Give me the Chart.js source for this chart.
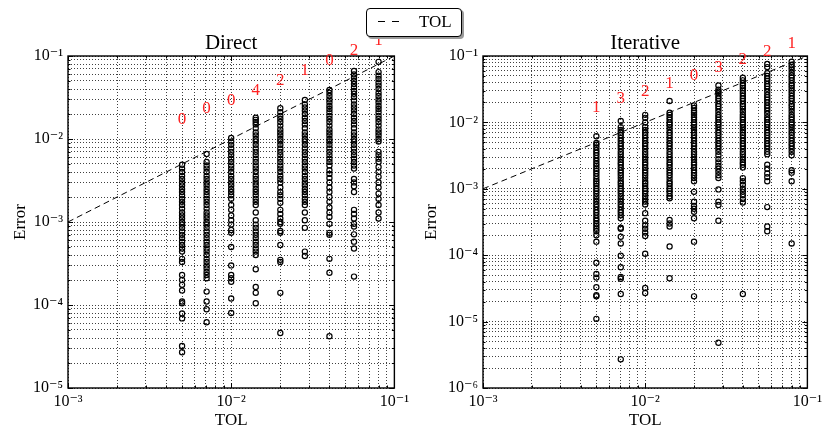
<!DOCTYPE html>
<html>
<head>
<meta charset="utf-8">
<script src="https://cdn.jsdelivr.net/npm/chart.js@4/dist/chart.umd.min.js"></script>
<style>
  body { margin: 0; background: #fff; width: 826px; height: 429px; overflow: hidden; position: relative; font-family: "Liberation Serif", serif; }
  .panel { position: absolute; top: 0; width: 413px; height: 429px; }
  #legend { position: absolute; left: 366px; top: 8px; width: 94px; height: 27px; border: 1px solid #000; border-radius: 4px; background: #fff; box-shadow: 2px 2px 0 #9a9a9a; }
  #legend .dash { position: absolute; top: 12px; width: 7px; height: 1px; background: #000; }
  #legend .txt { position: absolute; left: 52px; top: 3px; font-size: 17px; line-height: 20px; color: #000; }
</style>
</head>
<body>
<div class="panel" style="left:0"><canvas id="direct" width="413" height="429"></canvas></div>
<div class="panel" style="left:413px"><canvas id="iterative" width="413" height="429"></canvas></div>
<div id="legend"><div class="dash" style="left:11px"></div><div class="dash" style="left:25px"></div><span class="txt">TOL</span></div>
<script>
const tol = [0.005, 0.00707, 0.01, 0.01414, 0.02, 0.02828, 0.04, 0.05657, 0.08];
const tolLine = [0.001, 0.1];

// red numbers above each column and the height where they sit
const directAbove = [0, 0, 0, 4, 2, 1, 0, 2, 1];
const iterativeAbove = [1, 3, 2, 1, 0, 3, 2, 2, 1];
const labelHeights = [0.017, 0.023, 0.029, 0.038, 0.051, 0.066, 0.088, 0.117, 0.152];

// errors, one list per TOL column
const directErrors = [
  [4.9e-3,4.4e-3,4.0e-3,3.6e-3,3.3e-3,3.0e-3,2.75e-3,2.5e-3,2.3e-3,2.1e-3,1.9e-3,1.75e-3,1.6e-3,1.45e-3,1.3e-3,1.2e-3,1.1e-3,1.0e-3,9.3e-4,8.5e-4,7.7e-4,7.0e-4,6.4e-4,5.8e-4,5.3e-4,4.8e-4,4.4e-4,3.6e-4,3.3e-4,2.3e-4,2.0e-4,1.75e-4,1.5e-4,1.1e-4,1.05e-4,7.9e-5,6.9e-5,3.2e-5,2.7e-5],
  [6.6e-3,5.3e-3,4.8e-3,4.4e-3,4.0e-3,3.6e-3,3.3e-3,3.0e-3,2.75e-3,2.5e-3,2.3e-3,2.1e-3,1.9e-3,1.75e-3,1.6e-3,1.45e-3,1.3e-3,1.2e-3,1.1e-3,1.0e-3,9.3e-4,8.5e-4,7.7e-4,7.0e-4,6.4e-4,5.8e-4,5.3e-4,4.8e-4,4.4e-4,4.0e-4,3.6e-4,3.3e-4,3.0e-4,2.75e-4,2.5e-4,2.3e-4,2.1e-4,1.45e-4,1.1e-4,8.9e-5,6.2e-5],
  [1.03e-2,9.3e-3,8.5e-3,7.7e-3,7.0e-3,6.4e-3,5.8e-3,5.3e-3,4.8e-3,4.4e-3,4.0e-3,3.6e-3,3.3e-3,3.0e-3,2.75e-3,2.5e-3,2.3e-3,2.1e-3,1.9e-3,1.6e-3,1.4e-3,1.2e-3,1.05e-3,9.3e-4,8.0e-4,7.4e-4,5.0e-4,3.0e-4,2.3e-4,2.1e-4,1.9e-4,1.2e-4,8.0e-5],
  [1.8e-2,1.7e-2,1.6e-2,1.5e-2,1.35e-2,1.2e-2,1.1e-2,1.0e-2,9.3e-3,8.5e-3,7.7e-3,7.0e-3,6.4e-3,5.8e-3,5.3e-3,4.8e-3,4.4e-3,4.0e-3,3.6e-3,3.3e-3,3.0e-3,2.75e-3,2.5e-3,2.3e-3,2.1e-3,1.9e-3,1.75e-3,1.6e-3,1.3e-3,1.05e-3,9.3e-4,8.5e-4,7.7e-4,7.0e-4,6.4e-4,5.8e-4,5.3e-4,4.8e-4,4.4e-4,4.0e-4,2.7e-4,1.65e-4,1.4e-4,1.05e-4],
  [2.35e-2,2.1e-2,1.9e-2,1.75e-2,1.6e-2,1.45e-2,1.3e-2,1.2e-2,1.1e-2,1.0e-2,9.3e-3,8.5e-3,7.7e-3,7.0e-3,6.4e-3,5.8e-3,5.3e-3,4.8e-3,4.4e-3,4.0e-3,3.6e-3,3.3e-3,3.0e-3,2.6e-3,2.3e-3,2.1e-3,1.9e-3,1.7e-3,1.4e-3,1.25e-3,1.1e-3,1.0e-3,9.5e-4,7.8e-4,7.4e-4,5.3e-4,3.5e-4,3.3e-4,1.4e-4,4.6e-5],
  [2.95e-2,2.6e-2,2.4e-2,2.2e-2,2.0e-2,1.8e-2,1.65e-2,1.5e-2,1.35e-2,1.2e-2,1.1e-2,1.0e-2,9.3e-3,8.5e-3,7.7e-3,7.0e-3,6.4e-3,5.8e-3,5.3e-3,4.8e-3,4.4e-3,4.0e-3,3.6e-3,3.3e-3,3.0e-3,2.75e-3,2.5e-3,2.3e-3,2.1e-3,1.9e-3,1.75e-3,1.6e-3,1.3e-3,1.05e-3,8.5e-4,4.4e-4,3.9e-4],
  [3.9e-2,3.6e-2,3.3e-2,3.0e-2,2.75e-2,2.5e-2,2.3e-2,2.1e-2,1.9e-2,1.75e-2,1.6e-2,1.45e-2,1.3e-2,1.2e-2,1.1e-2,1.0e-2,9.3e-3,8.5e-3,7.7e-3,7.0e-3,6.4e-3,5.8e-3,5.3e-3,4.8e-3,4.2e-3,3.8e-3,3.4e-3,3.0e-3,2.6e-3,2.3e-3,2.0e-3,1.75e-3,1.5e-3,1.3e-3,1.15e-3,9.5e-4,7.4e-4,7.0e-4,3.6e-4,2.45e-4,4.2e-5],
  [6.6e-2,6.0e-2,5.5e-2,5.0e-2,4.6e-2,4.2e-2,3.8e-2,3.5e-2,3.2e-2,2.9e-2,2.6e-2,2.4e-2,2.2e-2,2.0e-2,1.8e-2,1.65e-2,1.5e-2,1.35e-2,1.2e-2,1.1e-2,1.0e-2,9.3e-3,8.5e-3,7.7e-3,7.0e-3,6.4e-3,5.8e-3,5.3e-3,4.8e-3,4.4e-3,3.3e-3,3.0e-3,2.7e-3,2.3e-3,1.4e-3,1.25e-3,1.1e-3,9.5e-4,8.8e-4,7.1e-4,5.8e-4,4.8e-4,2.2e-4],
  [8.5e-2,6.4e-2,5.8e-2,5.3e-2,4.8e-2,4.4e-2,4.0e-2,3.6e-2,3.3e-2,3.0e-2,2.75e-2,2.5e-2,2.3e-2,2.1e-2,1.9e-2,1.75e-2,1.6e-2,1.45e-2,1.3e-2,1.2e-2,1.1e-2,1.0e-2,9.3e-3,7.0e-3,6.4e-3,5.8e-3,5.3e-3,4.6e-3,4.0e-3,3.5e-3,3.0e-3,2.6e-3,2.2e-3,1.9e-3,1.6e-3,1.3e-3,1.1e-3]
];

const iterativeErrors = [
  [6.2e-3,4.9e-3,4.6e-3,4.2e-3,3.8e-3,3.5e-3,3.2e-3,2.9e-3,2.65e-3,2.4e-3,2.2e-3,2.0e-3,1.85e-3,1.7e-3,1.55e-3,1.4e-3,1.3e-3,1.2e-3,1.1e-3,1.0e-3,9.3e-4,8.5e-4,7.7e-4,7.0e-4,6.4e-4,5.8e-4,5.3e-4,4.8e-4,4.4e-4,4.0e-4,3.6e-4,3.3e-4,3.0e-4,2.75e-4,2.5e-4,2.3e-4,2.0e-4,1.6e-4,7.7e-5,5.2e-5,4.6e-5,3.3e-5,2.5e-5,2.4e-5,1.1e-5],
  [1.05e-2,8.5e-3,7.7e-3,7.0e-3,6.4e-3,5.8e-3,5.3e-3,4.8e-3,4.4e-3,4.0e-3,3.6e-3,3.3e-3,3.0e-3,2.75e-3,2.5e-3,2.3e-3,2.1e-3,1.9e-3,1.75e-3,1.6e-3,1.45e-3,1.3e-3,1.2e-3,1.1e-3,1.0e-3,9.3e-4,8.5e-4,7.7e-4,7.0e-4,6.4e-4,5.8e-4,5.3e-4,4.8e-4,4.4e-4,4.0e-4,3.6e-4,2.6e-4,2.5e-4,1.9e-4,1.5e-4,9.8e-5,6.6e-5,4.7e-5,4.4e-5,2.6e-5,2.7e-6],
  [1.3e-2,1.17e-2,1.0e-2,8.5e-3,7.7e-3,7.0e-3,6.4e-3,5.8e-3,5.3e-3,4.8e-3,4.4e-3,4.0e-3,3.6e-3,3.3e-3,3.0e-3,2.75e-3,2.5e-3,2.3e-3,2.1e-3,1.9e-3,1.75e-3,1.6e-3,1.45e-3,1.3e-3,1.2e-3,1.1e-3,1.0e-3,9.3e-4,8.5e-4,7.7e-4,7.0e-4,6.4e-4,5.8e-4,4.3e-4,3.3e-4,2.8e-4,2.5e-4,2.2e-4,1.95e-4,1.05e-4,3.2e-5,2.7e-5],
  [2.1e-2,1.4e-2,1.3e-2,1.2e-2,1.1e-2,1.0e-2,9.3e-3,8.5e-3,7.7e-3,7.0e-3,6.4e-3,5.8e-3,5.3e-3,4.8e-3,4.4e-3,4.0e-3,3.6e-3,3.3e-3,3.0e-3,2.75e-3,2.5e-3,2.3e-3,2.1e-3,1.9e-3,1.75e-3,1.6e-3,1.45e-3,1.3e-3,1.2e-3,1.1e-3,1.0e-3,9.3e-4,8.5e-4,7.7e-4,7.2e-4,3.4e-4,3.0e-4,2.7e-4,1.35e-4,4.5e-5],
  [1.8e-2,1.65e-2,1.5e-2,1.4e-2,1.3e-2,1.2e-2,1.1e-2,1.0e-2,9.3e-3,8.5e-3,7.7e-3,7.0e-3,6.4e-3,5.8e-3,5.3e-3,4.8e-3,4.4e-3,4.0e-3,3.6e-3,3.3e-3,3.0e-3,2.75e-3,2.5e-3,2.3e-3,2.1e-3,1.9e-3,1.75e-3,1.6e-3,1.45e-3,1.3e-3,9.0e-4,6.4e-4,5.5e-4,5.0e-4,4.5e-4,3.6e-4,1.6e-4,2.4e-5],
  [3.6e-2,3.1e-2,2.9e-2,2.75e-2,2.5e-2,2.3e-2,2.1e-2,1.9e-2,1.75e-2,1.6e-2,1.45e-2,1.3e-2,1.2e-2,1.1e-2,1.0e-2,9.3e-3,8.5e-3,7.7e-3,7.0e-3,6.4e-3,5.8e-3,5.3e-3,4.8e-3,4.4e-3,4.0e-3,3.6e-3,3.2e-3,2.8e-3,2.5e-3,2.2e-3,2.0e-3,1.8e-3,1.6e-3,1.45e-3,9.8e-4,6.4e-4,5.7e-4,3.3e-4,4.8e-6],
  [4.7e-2,4.3e-2,3.9e-2,3.6e-2,3.3e-2,3.0e-2,2.75e-2,2.5e-2,2.3e-2,2.1e-2,1.9e-2,1.75e-2,1.6e-2,1.45e-2,1.3e-2,1.2e-2,1.1e-2,1.0e-2,9.3e-3,8.5e-3,7.7e-3,7.0e-3,6.4e-3,5.8e-3,5.3e-3,4.8e-3,4.4e-3,4.0e-3,3.6e-3,3.3e-3,3.0e-3,2.75e-3,2.5e-3,2.3e-3,2.1e-3,1.45e-3,1.3e-3,1.15e-3,1.0e-3,9.0e-4,8.0e-4,7.0e-4,6.2e-4,2.6e-5],
  [7.6e-2,6.8e-2,5.5e-2,5.0e-2,4.6e-2,4.2e-2,3.8e-2,3.5e-2,3.2e-2,2.9e-2,2.6e-2,2.4e-2,2.2e-2,2.0e-2,1.8e-2,1.65e-2,1.5e-2,1.35e-2,1.2e-2,1.1e-2,1.0e-2,9.3e-3,8.5e-3,7.7e-3,7.0e-3,6.4e-3,5.8e-3,5.3e-3,4.8e-3,4.4e-3,4.0e-3,3.6e-3,3.3e-3,2.3e-3,2.0e-3,1.7e-3,1.5e-3,1.3e-3,5.3e-4,2.7e-4,2.3e-4],
  [8.2e-2,7.4e-2,6.8e-2,6.2e-2,5.6e-2,5.1e-2,4.7e-2,4.3e-2,3.9e-2,3.6e-2,3.3e-2,3.0e-2,2.75e-2,2.5e-2,2.3e-2,2.1e-2,1.9e-2,1.75e-2,1.6e-2,1.45e-2,1.3e-2,1.2e-2,1.1e-2,1.0e-2,9.3e-3,8.5e-3,7.7e-3,7.0e-3,6.4e-3,5.8e-3,5.3e-3,4.8e-3,4.4e-3,4.0e-3,3.6e-3,3.2e-3,1.9e-3,1.75e-3,1.3e-3,1.5e-4]
];

const serif = '"Liberation Serif", "DejaVu Serif", serif';
Chart.defaults.font.family = serif;
Chart.defaults.color = '#000';

const sup = { '-': '\u207B', '1': '\u00B9', '2': '\u00B2', '3': '\u00B3', '4': '\u2074', '5': '\u2075', '6': '\u2076' };
function powLabel(v) {
  const e = Math.log10(v);
  if (Math.abs(e - Math.round(e)) > 1e-6) return '';
  return '10' + String(Math.round(e)).split('').map(c => sup[c]).join('');
}

// drop the 1.5x ticks Chart.js adds, keep 1..9 per decade
function keepDecadeTicks(scale) {
  scale.ticks = scale.ticks.filter(t => {
    const m = t.value / Math.pow(10, Math.floor(Math.log10(t.value) + 1e-9));
    return Math.abs(m - Math.round(m)) < 1e-6;
  });
}

const boxPlugin = {
  id: 'box',
  afterDatasetsDraw(chart, args, opts) {
    const { ctx, chartArea: a, scales: { x, y } } = chart;
    ctx.save();
    ctx.strokeStyle = '#000';
    ctx.lineWidth = 1;
    ctx.beginPath();
    x.ticks.forEach(t => {
      const px = Math.round(x.getPixelForValue(t.value)) + 0.5;
      const len = t.major ? 5 : 2.5;
      ctx.moveTo(px, a.bottom); ctx.lineTo(px, a.bottom - len);
      ctx.moveTo(px, a.top); ctx.lineTo(px, a.top + len);
    });
    y.ticks.forEach(t => {
      const py = Math.round(y.getPixelForValue(t.value)) + 0.5;
      const len = t.major ? 5 : 2.5;
      ctx.moveTo(a.left, py); ctx.lineTo(a.left + len, py);
      ctx.moveTo(a.right, py); ctx.lineTo(a.right - len, py);
    });
    ctx.stroke();
    ctx.lineWidth = 1.4;
    ctx.strokeRect(a.left, a.top, a.right - a.left, a.bottom - a.top);

    ctx.fillStyle = '#f22';
    ctx.font = '17px ' + serif;
    ctx.textAlign = 'center';
    ctx.textBaseline = 'middle';
    tol.forEach((t, i) => {
      ctx.fillText(String(opts.counts[i]), x.getPixelForValue(t), y.getPixelForValue(labelHeights[i]));
    });
    ctx.restore();
  }
};

function makePanel(id, title, errors, counts, yMin, axisWidth, padRight, yTitlePad) {
  const points = [];
  tol.forEach((t, i) => errors[i].forEach(e => points.push({ x: t, y: e })));
  new Chart(document.getElementById(id), {
    type: 'scatter',
    data: {
      datasets: [
        {
          type: 'line',
          data: tolLine.map(v => ({ x: v, y: v })),
          borderColor: '#000',
          borderWidth: 1,
          borderDash: [6, 4],
          pointRadius: 0,
          fill: false
        },
        {
          data: points,
          pointStyle: 'circle',
          pointRadius: 2.6,
          pointBorderWidth: 1.2,
          pointBorderColor: '#000',
          pointBackgroundColor: 'rgba(0,0,0,0)'
        }
      ]
    },
    options: {
      responsive: false,
      animation: false,
      events: [],
      layout: { padding: { top: 30.8, right: padRight, left: 0, bottom: 0 } },
      plugins: {
        legend: { display: false },
        tooltip: { enabled: false },
        title: {
          display: true,
          text: title,
          fullSize: false,
          color: '#000',
          padding: 0,
          font: { size: 21, weight: 'normal', lineHeight: 1.2 }
        },
        box: { counts: counts }
      },
      scales: {
        x: {
          type: 'logarithmic',
          min: 1e-3,
          max: 1e-1,
          afterFit(scale) { scale.height = 41; },
          afterBuildTicks: keepDecadeTicks,
          grid: { color: 'rgba(0,0,0,0.75)', lineWidth: 1, drawTicks: false },
          border: { display: false, dash: [1, 2] },
          ticks: { autoSkip: false, maxRotation: 0, minRotation: 0, padding: 4, font: { size: 16 }, callback: powLabel },
          title: { display: true, text: 'TOL', font: { size: 17, lineHeight: 1 }, padding: { top: 0, bottom: 0 } }
        },
        y: {
          type: 'logarithmic',
          min: yMin,
          max: 1e-1,
          afterFit(scale) { scale.width = axisWidth; },
          afterBuildTicks: keepDecadeTicks,
          grid: { color: 'rgba(0,0,0,0.75)', lineWidth: 1, drawTicks: false },
          border: { display: false, dash: [1, 2] },
          ticks: { autoSkip: false, padding: 5, font: { size: 16 }, callback: powLabel },
          title: { display: true, text: 'Error', font: { size: 17, lineHeight: 1 }, padding: { top: yTitlePad, bottom: 0 } }
        }
      }
    },
    plugins: [boxPlugin]
  });
}

makePanel('direct', 'Direct', directErrors, directAbove, 1e-5, 68, 17, 12);
makePanel('iterative', 'Iterative', iterativeErrors, iterativeAbove, 1e-6, 70, 15, 10);
</script>
</body>
</html>
